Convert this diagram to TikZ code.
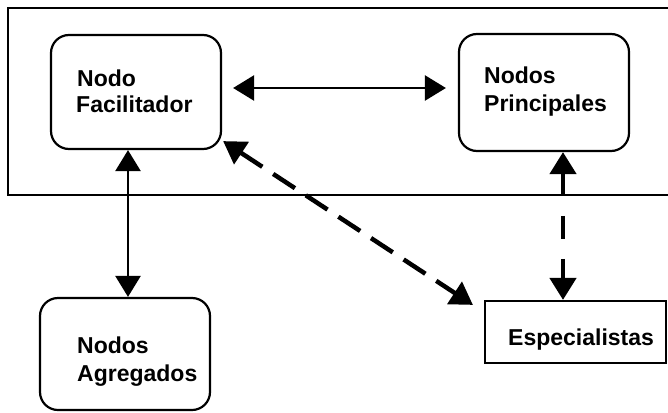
\documentclass[tikz,border=0pt]{standalone}
\usepackage{fontspec}
\setmainfont{Liberation Sans}
\usetikzlibrary{arrows.meta,calc}
\begin{document}
\begin{tikzpicture}[x=1pt,y=-1pt,
  box/.style={draw,line width=2.2pt,rounded corners=18pt,inner sep=0pt},
  sqbox/.style={draw,line width=2.2pt,inner sep=0pt},
  lbl/.style={anchor=base west,inner sep=0pt,font=\fontsize{23}{28}\selectfont\bfseries},
  tip/.style={Triangle[length=21pt,width=25pt]},
  arr/.style={line width=2.5pt,{Triangle[length=21pt,width=25pt]}-{Triangle[length=21pt,width=25pt]}},
  darr/.style={line width=4.5pt,{Triangle[length=22pt,width=26pt]}-{Triangle[length=22pt,width=26pt]}}
]
\useasboundingbox (0,0) rectangle (668,412);
% frame
\draw[line width=2pt] (668,8) -- (8,8) -- (8,195) -- (668,195);
% boxes
\node[box,minimum width=170pt,minimum height=114pt] (fac) at (136,92) {};
\node[box,minimum width=170pt,minimum height=117pt] (pri) at (544,92.5) {};
\node[box,minimum width=170pt,minimum height=112pt] (agr) at (125,354) {};
\node[sqbox,minimum width=181pt,minimum height=62pt] (esp) at (575.5,332) {};
% labels
\node[lbl] (t1) at (77,86) {Nodo};
\node[lbl] (t2) at (76,112) {Facilitador};
\node[lbl] (t3) at (484,83) {Nodos};
\node[lbl] (t4) at (484,111) {Principales};
\node[lbl] (t5) at (77,353) {Nodos};
\node[lbl] (t6) at (77,381) {Agregados};
\node[lbl] (t7) at (508,345) {Especialistas};
% connectors
\coordinate (h) at (0,88);
\coordinate (v1) at (128,0);
\coordinate (v2) at (563,0);
\draw[arr,shorten <=11pt,shorten >=12pt] (fac.east |- h) -- (pri.west |- h);
\draw[arr] (fac.south -| v1) -- (agr.north -| v1);
\draw[darr,dash pattern=on 26pt off 13pt] ([shift={(1,-9)}]fac.south east) -- ([shift={(-11,5)}]esp.north west);
\draw[darr,dash pattern=on 23pt off 20pt] (pri.south -| v2) -- (esp.north -| v2);
\end{tikzpicture}
\end{document}
